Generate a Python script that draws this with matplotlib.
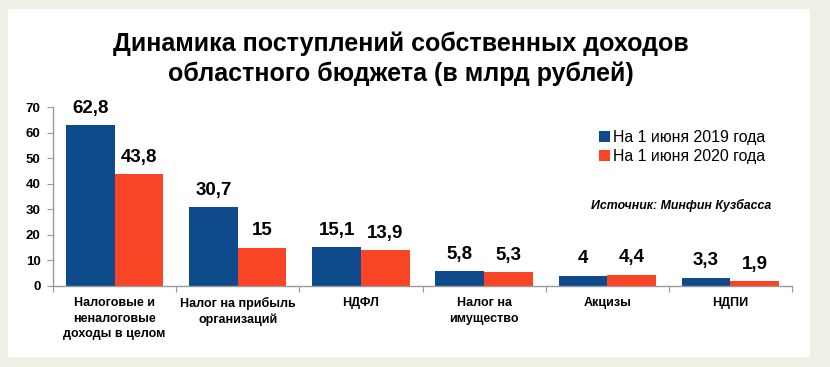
import matplotlib
matplotlib.use("Agg")
import matplotlib.pyplot as plt
import numpy as np
from matplotlib.patches import Rectangle

categories = ["Налоговые и\nненалоговые\nдоходы в целом", "Налог на прибыль\nорганизаций",
              "НДФЛ", "Налог на\nимущество", "Акцизы", "НДПИ"]
series_names = ["На 1 июня 2019 года", "На 1 июня 2020 года"]
values_2019 = [62.8, 30.7, 15.1, 5.8, 4.0, 3.3]
values_2020 = [43.8, 15.0, 13.9, 5.3, 4.4, 1.9]
yticks = [0, 10, 20, 30, 40, 50, 60, 70]
title = "Динамика поступлений собственных доходов\nобластного бюджета (в млрд рублей)"
source = "Источник: Минфин Кузбасса"

BLUE = "#0F4B8C"
RED = "#FA4426"
FONT = ["Liberation Sans", "DejaVu Sans"]
plt.rcParams["font.family"] = FONT

W, H = 830, 367
fig = plt.figure(figsize=(W / 100, H / 100), dpi=100, facecolor="#EFEFE6")
# white panel
fig.patches.append(Rectangle((8 / W, 1 - 357 / H), (810 - 8) / W, (357 - 9) / H,
                             transform=fig.transFigure, facecolor="white",
                             edgecolor="none", zorder=-10))

ax = fig.add_axes([53 / W, 1 - 286 / H, (792 - 53) / W, (286 - 107) / H])
ax.set_facecolor("none")
ax.set_zorder(5)

x = np.arange(len(categories))
bw = 0.395
b1 = ax.bar(x - bw / 2, values_2019, bw, color=BLUE, label=series_names[0])
b2 = ax.bar(x + bw / 2, values_2020, bw, color=RED, label=series_names[1])

def fmt(v):
    return f"{v:g}".replace(".", ",")

for bars, vals in ((b1, values_2019), (b2, values_2020)):
    for r, v in zip(bars, vals):
        ax.annotate(fmt(v), (r.get_x() + r.get_width() / 2, v),
                    xytext=(0, 6), textcoords="offset points",
                    ha="center", va="bottom", fontsize=13.5, fontweight="bold")

ax.set_xlim(-0.5, len(categories) - 0.5)
ax.set_ylim(0, 70)
ax.set_yticks(yticks)
ax.set_yticklabels([str(t) for t in yticks], fontsize=9.5, fontweight="bold")
ax.set_xticks(np.arange(len(categories) + 1) - 0.5)
ax.set_xticklabels([])
ax.tick_params(axis="x", length=4, color="#999999", direction="out")
ax.tick_params(axis="y", length=4, color="#999999", direction="out", pad=5)
for s in ("top", "right"):
    ax.spines[s].set_visible(False)
for s in ("left", "bottom"):
    ax.spines[s].set_color("#999999")
    ax.spines[s].set_linewidth(1)

for i, c in enumerate(categories):
    ax.annotate(c, (i, 0), xytext=(0, -8), textcoords="offset points",
                ha="center", va="top", fontsize=9, fontweight="bold",
                linespacing=1.4, annotation_clip=False)

fig.text(0.5 * (112 + 690) / W, 1 - 31 / H, title, ha="center", va="top",
         fontsize=18, fontweight="bold", linespacing=1.3)

leg = fig.legend(handles=[b1, b2], loc="upper left",
                 bbox_to_anchor=(591 / W, 1 - 122 / H), frameon=False,
                 fontsize=11.4, handlelength=0.7, handleheight=0.7,
                 handletextpad=0.2, labelspacing=0.25, borderpad=0)

fig.text(591 / W, 1 - 205 / H, source, ha="left", va="center",
         fontsize=8.9, fontweight="bold", fontstyle="italic")

fig.savefig("out.png", dpi=100, facecolor=fig.get_facecolor())
